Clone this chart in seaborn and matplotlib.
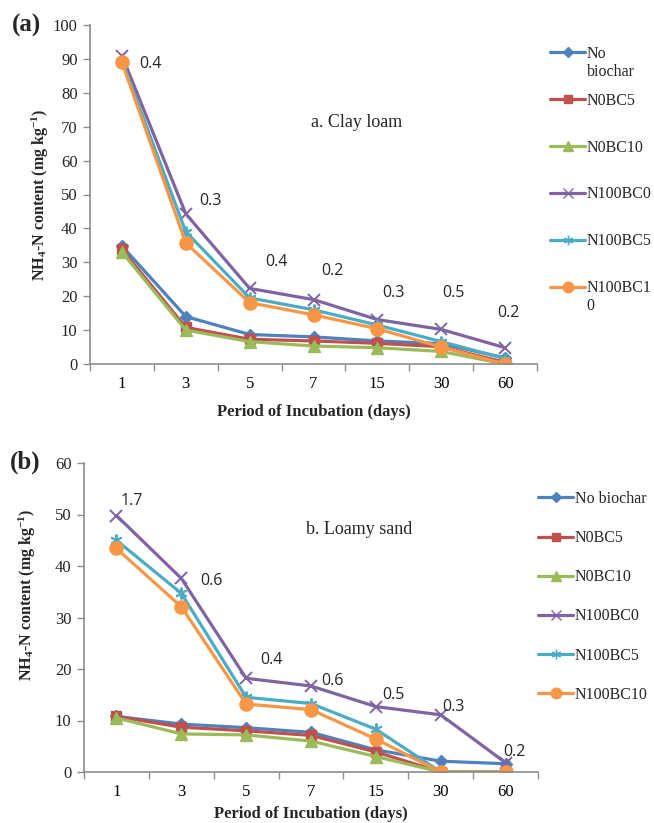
import matplotlib
matplotlib.use("Agg")
import matplotlib.pyplot as plt
from matplotlib.lines import Line2D
import seaborn as sns
import pandas as pd

# ---------------- data ----------------
days = ["1", "3", "5", "7", "15", "30", "60"]
series = ["No biochar", "N0BC5", "N0BC10", "N100BC0", "N100BC5", "N100BC10"]

clay_no_biochar = [34.8, 14.0, 8.7, 8.0, 6.8, 6.0, 1.8]
clay_n0bc5 = [33.8, 10.8, 7.3, 6.8, 6.1, 5.1, 0.5]
clay_n0bc10 = [33.0, 10.0, 6.6, 5.3, 4.8, 3.7, 0.0]
clay_n100bc0 = [91.0, 44.3, 22.3, 19.0, 13.1, 10.2, 4.8]
clay_n100bc5 = [89.5, 39.0, 19.5, 16.0, 11.5, 6.6, 1.6]
clay_n100bc10 = [89.0, 35.7, 18.1, 14.5, 10.4, 5.0, 0.0]

sand_no_biochar = [10.8, 9.3, 8.6, 7.7, 4.3, 2.1, 1.6]
sand_n0bc5 = [10.8, 8.7, 8.0, 7.1, 3.9, 0.0, 0.0]
sand_n0bc10 = [10.5, 7.4, 7.2, 6.0, 3.0, 0.0, 0.0]
sand_n100bc0 = [49.8, 37.6, 18.2, 16.7, 12.7, 11.1, 1.8]
sand_n100bc5 = [45.0, 34.7, 14.5, 13.3, 8.3, 0.0, 0.0]
sand_n100bc10 = [43.4, 32.1, 13.2, 12.1, 6.4, 0.0, 0.0]

clay_lsd = ["0.4", "0.3", "0.4", "0.2", "0.3", "0.5", "0.2"]
sand_lsd = ["1.7", "0.6", "0.4", "0.6", "0.5", "0.3", "0.2"]

# legend labels as shown (panel a wraps two of them)
clay_legend_first = ["No", "N0BC5", "N0BC10", "N100BC0", "N100BC5", "N100BC1"]
clay_legend_second = ["biochar", "", "", "", "", "0"]
sand_legend_labels = series

# label placement (x offset in category units, y in data units)
clay_lsd_dx = [0.44, 0.38, 0.42, 0.30, 0.25, 0.19, 0.05]
clay_lsd_y = [88.5, 48.0, 30.0, 27.5, 21.0, 21.0, 15.0]
sand_lsd_dx = [0.23, 0.47, 0.39, 0.33, 0.27, 0.20, 0.14]
sand_lsd_y = [52.7, 37.1, 21.7, 17.7, 15.0, 12.6, 3.9]

colors = ["#4F81BD", "#C0504D", "#9BBB59", "#8064A2", "#4BACC6", "#F79646"]
markers = ["D", "s", "^", "x", (6, 2, 0), "o"]
msizes = [6.5, 7, 8.5, 8.5, 8.5, 9.5]


def long_df(vals):
    rows = []
    for s, v in zip(series, vals):
        for d, y in zip(days, v):
            rows.append({"day": d, "series": s, "value": y})
    return pd.DataFrame(rows)


clay_df = long_df([clay_no_biochar, clay_n0bc5, clay_n0bc10,
                   clay_n100bc0, clay_n100bc5, clay_n100bc10])
sand_df = long_df([sand_no_biochar, sand_n0bc5, sand_n0bc10,
                   sand_n100bc0, sand_n100bc5, sand_n100bc10])

# ---------------- style ----------------
sns.set_style("white")
plt.rcParams["font.family"] = ["Liberation Serif", "DejaVu Serif"]
plt.rcParams["mathtext.fontset"] = "custom"
plt.rcParams["mathtext.rm"] = "Liberation Serif:bold"
plt.rcParams["mathtext.it"] = "Liberation Serif:bold"
plt.rcParams["mathtext.bf"] = "Liberation Serif:bold"

fig = plt.figure(figsize=(6.54, 8.23), dpi=100)
W, H = 654, 823

ax_a = fig.add_axes([90 / W, 1 - 364 / H, 447 / W, 339 / H])
ax_b = fig.add_axes([84 / W, 1 - 772 / H, 454 / W, 309 / H])

spine_col = "#8C8C8C"
LW = 2.3


def draw(ax, df, ymax, ystep, lsd, dx, ly, title, tx, ty, ylab_xy, xlabpad):
    for i, s in enumerate(series):
        sns.lineplot(data=df[df["series"] == s], x="day", y="value", ax=ax,
                     color=colors[i], marker=markers[i], markersize=msizes[i],
                     markeredgecolor=colors[i], markeredgewidth=1.4 if i in (3, 4) else 1,
                     linewidth=LW, sort=False, legend=False)
    ax.set_xlim(-0.5, len(days) - 0.5)
    ax.set_ylim(0, ymax)
    ax.set_yticks(range(0, ymax + 1, ystep))
    ax.set_xticks(range(len(days)))
    ax.set_xticklabels(days)
    ax.set_xticks([i - 0.5 for i in range(len(days) + 1)], minor=True)
    ax.tick_params(axis="x", which="major", length=0, labelsize=12, pad=9, colors="black")
    ax.tick_params(axis="x", which="minor", length=5, width=1, color=spine_col, direction="out", bottom=True)
    ax.tick_params(axis="y", which="major", length=5, width=1, color=spine_col, direction="out",
                   labelsize=12, pad=4, left=True)
    for sp in ["top", "right"]:
        ax.spines[sp].set_visible(False)
    for sp in ["left", "bottom"]:
        ax.spines[sp].set_color(spine_col)
        ax.spines[sp].set_linewidth(1.2)
    ax.set_xlabel("Period of Incubation (days)", fontsize=12, fontweight="bold", labelpad=xlabpad)
    ax.set_ylabel(r"NH$_4$-N content (mg kg$^{-1}$)", fontsize=11.5, fontweight="bold")
    ax.yaxis.set_label_coords(*ylab_xy)
    for i, t in enumerate(lsd):
        ax.text(i + dx[i], ly[i], t, fontsize=11.5, family=["Open Sans", "DejaVu Sans"],
                ha="center", va="center")
    ax.text(tx, ty, title, transform=ax.transAxes, fontsize=13, ha="center", va="center")


def add_legend(labels, anchor, spacing):
    handles = [Line2D([0], [0], color=colors[i], marker=markers[i], markersize=msizes[i] * 0.8,
                      markeredgecolor=colors[i], linewidth=LW) for i in range(len(series))]
    return fig.legend(handles, labels, loc="upper left", bbox_to_anchor=anchor,
                      bbox_transform=fig.transFigure, frameon=False, fontsize=11.5,
                      handlelength=2.2, handletextpad=0.1, labelspacing=spacing,
                      borderaxespad=0, borderpad=0)


draw(ax_a, clay_df, 100, 10, clay_lsd, clay_lsd_dx, clay_lsd_y, "a. Clay loam", 0.597, 0.711,
     (-0.087, 0.5), 8)
draw(ax_b, sand_df, 60, 10, sand_lsd, sand_lsd_dx, sand_lsd_y, "b. Loamy sand", 0.606, 0.786,
     (-0.101, 0.573), 4)

leg_a = add_legend(clay_legend_first, (550 / W, 1 - 46 / H), 1.93)
leg_b = add_legend(sand_legend_labels, (538 / W, 1 - 491 / H), 1.45)

# second lines of the wrapped legend labels in panel (a)
fig.canvas.draw()
renderer = fig.canvas.get_renderer()
for txt, extra in zip(leg_a.get_texts(), clay_legend_second):
    if extra:
        bb = txt.get_window_extent(renderer)
        fig.text(bb.x0 / fig.bbox.width, (bb.y0 - 18) / fig.bbox.height,
                 extra, fontsize=11.5, ha="left", va="bottom")

fig.text(12 / W, 1 - 25 / H, "(a)", fontsize=18, fontweight="bold", va="center", ha="left")
fig.text(10 / W, 1 - 462 / H, "(b)", fontsize=18, fontweight="bold", va="center", ha="left")

fig.savefig("out.png", dpi=100)
